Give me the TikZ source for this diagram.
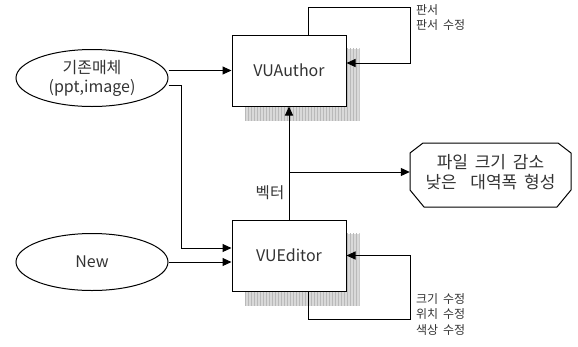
\documentclass[tikz,border=0pt]{standalone}
\usepackage{fontspec}
\setmainfont{Noto Sans CJK KR}
\usetikzlibrary{shapes.geometric,arrows.meta,calc,backgrounds}

% wider word spaces for the Hangul labels
\newcommand{\widespaces}{\spaceskip=0.4em\relax}

\tikzset{
  ink/.style={draw=black, line width=1pt},
  arr/.style={ink, -{Triangle[length=9pt,width=8pt]}},
  srcnode/.style={ellipse, ink, minimum width=152pt, minimum height=57pt,
    inner sep=0pt, align=center, text=black!80, font=\fontsize{16}{19}\selectfont},
  toolbox/.style={rectangle, ink, fill=white, minimum width=114pt,
    minimum height=71pt, inner sep=0pt, text=black!80,
    font=\fontsize{16}{19}\selectfont},
  note/.style={anchor=north west, align=left, inner sep=0pt, text=black!80,
    font={\fontsize{12}{15.7}\selectfont\widespaces}},
  stripefill/.style={fill=gray!30},
  stripeline/.style={draw=gray!55, line width=1.1pt}
}

% striped drop shadow behind a box node
\newcommand{\stripeshadow}[1]{%
  \begin{scope}[on background layer]
    \begin{scope}
      \clip ($(#1.north west)+(13,14)$) rectangle ($(#1.south east)+(13,14)$);
      \fill[stripefill] ($(#1.north west)+(13,14)$) rectangle ($(#1.south east)+(13,14)$);
      \foreach \i in {0,...,40}
        \draw[stripeline] ($(#1.north west)+(14+3*\i,0)$) -- ++(0,100);
    \end{scope}
  \end{scope}}

\begin{document}
\begin{tikzpicture}[x=1pt,y=-1pt]
  \useasboundingbox (0,0) rectangle (578,346);

  % sources
  \node[srcnode] (old) at (92,78) {기존매체\\(ppt,image)};
  \node[srcnode] (new) at (92,262) {New};

  % tools
  \node[toolbox] (auth) at (289,70.5) {VUAuthor};
  \node[toolbox] (edit) at (289,255.5) {VUEditor};
  \stripeshadow{auth}
  \stripeshadow{edit}

  % result
  \node[align=center, inner sep=0pt, text=black!80,
        font={\fontsize{17}{20}\selectfont\widespaces},
        minimum width=161pt, minimum height=64pt]
        (hex) at (490.5,172) {파일 크기 감소\\낮은\ \ 대역폭 형성};
  \draw[ink] ($(hex.center)+(-67.5,-29)$) -- ($(hex.center)+(-80.5,-19)$)
    -- ($(hex.center)+(-80.5,18)$) -- ($(hex.center)+(-66.5,35)$)
    -- ($(hex.center)+(66.5,35)$) -- ($(hex.center)+(80.5,18)$)
    -- ($(hex.center)+(80.5,-19)$) -- ($(hex.center)+(67.5,-29)$) -- cycle;

  % inputs
  \draw[arr] (old.east |- auth.west) -- (auth.west);
  \coordinate (bend) at (181,85);
  \draw[arr] (old.east |- bend) -- (bend) |- ($(edit.west)+(0,-7.5)$);
  \draw[arr] (new.east) -- (new.east -| edit.west);

  % vector path
  \draw[arr] (edit.north) -- (auth.south);
  \draw[arr] (edit.north |- hex.west) -- (hex.west);
  \node[inner sep=0pt, text=black!80, font=\fontsize{15.5}{18}\selectfont]
    (vlabel) at (270,193) {벡터};

  % self loops
  \coordinate (aloop) at (410,7);
  \draw[arr] ($(auth.north)+(19,0)$) |- (aloop) |- ($(auth.east)+(0,-7.5)$);
  \coordinate (eloop) at (410,319);
  \draw[arr] ($(edit.south)+(19,0)$) |- (eloop) |- (edit.east);

  % loop notes
  \node[note] (anote) at (416,4) {판서\\판서 수정};
  \node[note] (enote) at (416,293) {크기 수정\\위치 수정\\색상 수정};
\end{tikzpicture}
\end{document}
